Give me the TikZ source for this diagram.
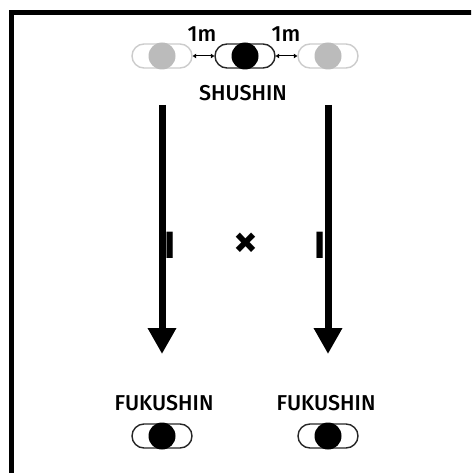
\documentclass[tikz,border=0pt]{standalone}
\usepackage{fontspec}
\setmainfont{Fira Sans}[UprightFont=* Medium, BoldFont=* Bold]
\usetikzlibrary{arrows.meta,shapes.misc}
\definecolor{ghostline}{HTML}{CCCCCC}
\definecolor{ghostfill}{HTML}{BBBBBB}
\tikzset{
  pill/.style={draw, rounded rectangle, minimum width=60pt, minimum height=24pt, inner sep=0pt, line width=1.4pt},
  ghostpill/.style={pill, draw=ghostline},
  realpill/.style={pill, draw=black!85},
  ball/.style={circle, minimum size=27pt, inner sep=0pt},
  realball/.style={ball, fill=black},
  ghostball/.style={ball, fill=ghostfill},
  gap/.style={{Triangle[length=3.5pt,width=4.5pt]}-{Triangle[length=3.5pt,width=4.5pt]}, line width=1pt},
  bigarrow/.style={-{Triangle[length=26pt,width=27pt]}, line width=7pt},
  lbl/.style={font=\fontsize{21.5}{24}\selectfont, inner sep=0pt},
  small/.style={font=\fontsize{22}{24}\selectfont, inner sep=0pt},
  barmark/.style={font=\fontsize{38}{40}\selectfont\bfseries, inner sep=0pt},
}
\begin{document}
\begin{tikzpicture}[x=1pt,y=-1pt]
\useasboundingbox (0,0) rectangle (471,473);
\clip (0,0) rectangle (471,473);
\fill[white] (0,0) rectangle (471,473);
% frame
\draw[line width=4.5pt] (11.5,480) -- (11.5,12.3) -- (480,12.3);
% shushin positions
\node[ghostpill] (gl) at (162,56) {};
\node[ghostball] (glb) at (162,56) {};
\node[realpill] (sp) at (245,56) {};
\node[realball] (sb) at (245,56) {};
\node[ghostpill] (gr) at (328,56) {};
\node[ghostball] (grb) at (328,56) {};
\draw[gap] (gl.east) -- (sp.west);
\draw[gap] (sp.east) -- (gr.west);
\node[small] (m1) at (202,34) {1m};
\node[small] (m2) at (286,34) {1m};
\node[lbl] (shu) at (243,93) {SHUSHIN};
% arrows
\coordinate (l1) at (162,105);
\coordinate (l2) at (162,354);
\coordinate (r1) at (328,105);
\coordinate (r2) at (328,354);
\draw[bigarrow] (l1) -- (l2);
\draw[bigarrow] (r1) -- (r2);
\node[barmark] (il) at (170.5,245) {I};
\node[barmark] (ir) at (320,245) {I};
\node[font=\fontsize{48}{50}\selectfont\bfseries, inner sep=0pt] (x) at (246,245) {×};
% fukushin
\node[lbl] (f1) at (164,403) {FUKUSHIN};
\node[lbl] (f2) at (326,403) {FUKUSHIN};
\node[realpill] (fp1) at (162,436) {};
\node[realball] (fb1) at (162,436) {};
\node[realpill] (fp2) at (328,436) {};
\node[realball] (fb2) at (328,436) {};
\end{tikzpicture}
\end{document}
